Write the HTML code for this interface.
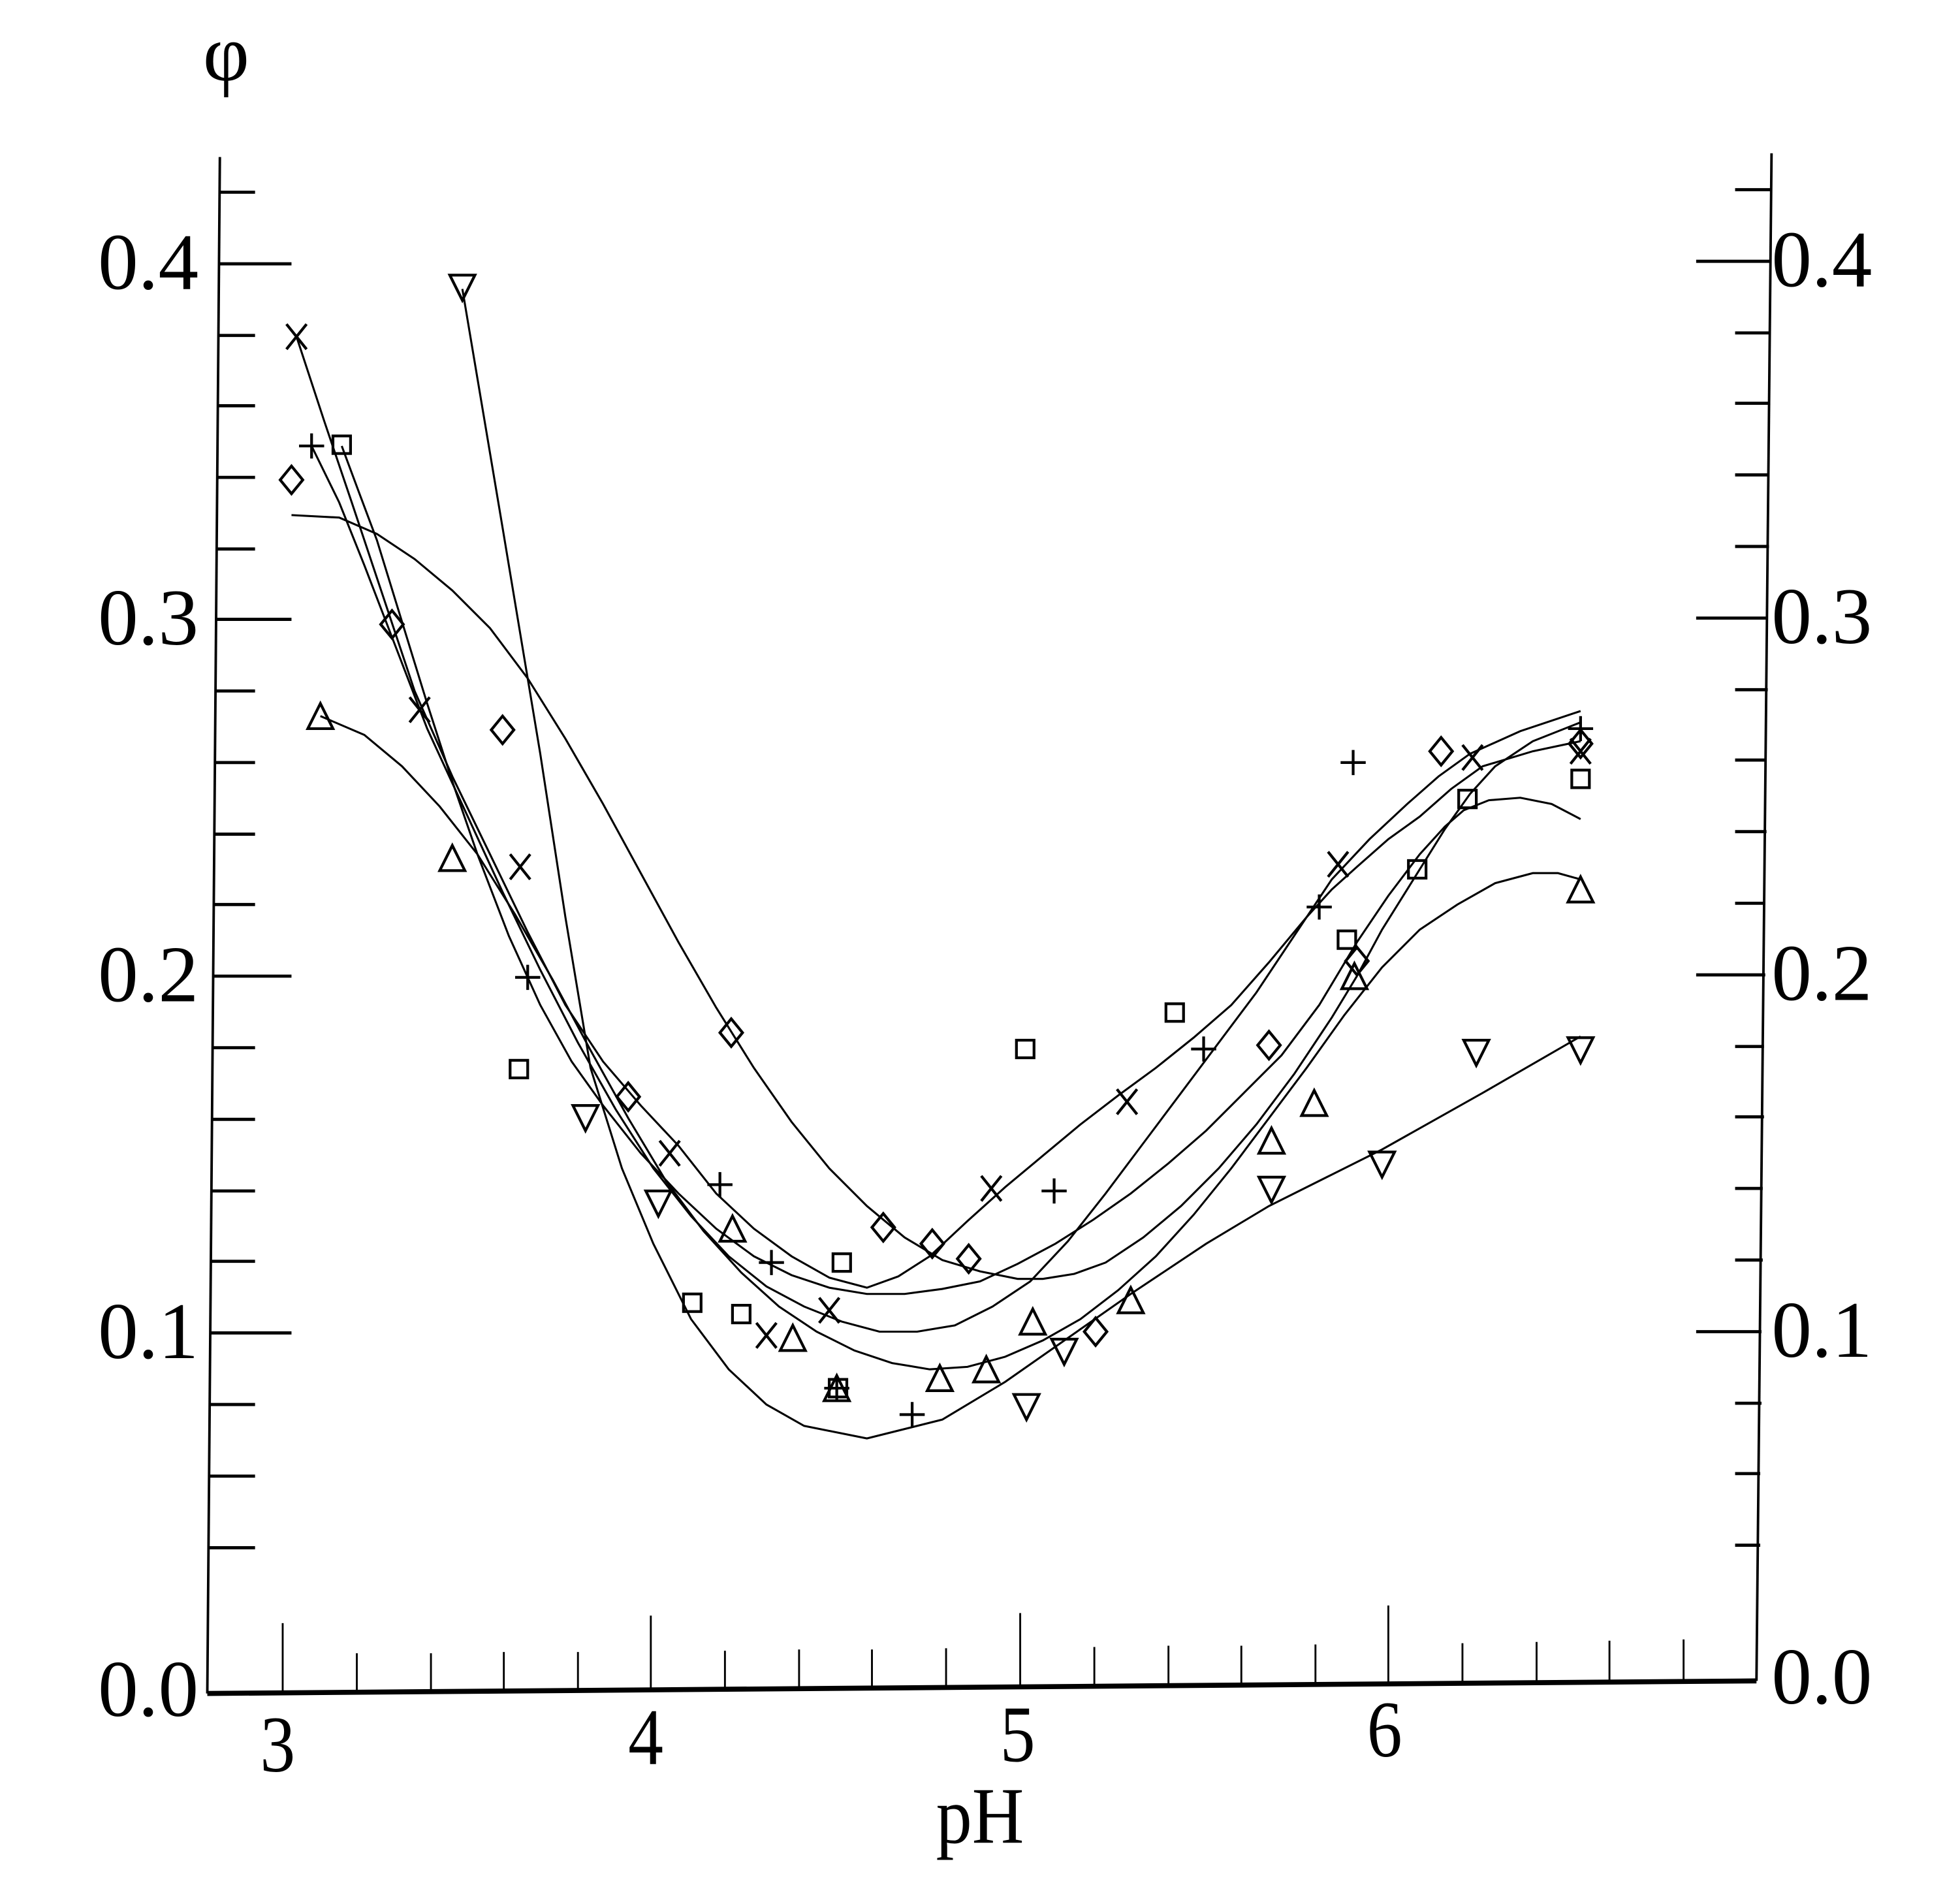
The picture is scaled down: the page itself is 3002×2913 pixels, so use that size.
<!DOCTYPE html>
<html><head><meta charset="utf-8"><style>html,body{margin:0;padding:0;background:#fff}svg{display:block}</style></head>
<body>
<svg width="3002" height="2913" viewBox="0 0 1560 1514" preserveAspectRatio="none" xmlns="http://www.w3.org/2000/svg" font-family="Liberation Serif, serif">
<rect width="1560" height="1514" fill="#fff"/>
<g stroke="#000" fill="none">
<line x1="175" y1="125" x2="165" y2="1348" stroke-width="2"/>
<line x1="1410" y1="122" x2="1398" y2="1338" stroke-width="2"/>
<line x1="165" y1="1348" x2="1398" y2="1338" stroke-width="4"/>
<g stroke-width="2.5">
<line x1="175" y1="153" x2="203" y2="153"/><line x1="175" y1="210" x2="232" y2="210"/>
<line x1="174" y1="267" x2="203" y2="267"/><line x1="174" y1="323" x2="203" y2="323"/>
<line x1="173" y1="380" x2="203" y2="380"/><line x1="173" y1="437" x2="203" y2="437"/>
<line x1="172" y1="493" x2="232" y2="493"/><line x1="172" y1="550" x2="203" y2="550"/>
<line x1="171" y1="607" x2="203" y2="607"/><line x1="171" y1="664" x2="203" y2="664"/>
<line x1="170" y1="720" x2="203" y2="720"/><line x1="170" y1="777" x2="232" y2="777"/>
<line x1="169" y1="834" x2="203" y2="834"/><line x1="169" y1="891" x2="203" y2="891"/>
<line x1="168" y1="948" x2="203" y2="948"/><line x1="168" y1="1004" x2="203" y2="1004"/>
<line x1="167" y1="1061" x2="232" y2="1061"/><line x1="167" y1="1118" x2="203" y2="1118"/>
<line x1="166" y1="1175" x2="203" y2="1175"/><line x1="166" y1="1232" x2="203" y2="1232"/>
<line x1="1381" y1="151" x2="1410" y2="151"/><line x1="1350" y1="208" x2="1410" y2="208"/>
<line x1="1381" y1="265" x2="1409" y2="265"/><line x1="1381" y1="321" x2="1409" y2="321"/>
<line x1="1381" y1="378" x2="1408" y2="378"/><line x1="1381" y1="435" x2="1408" y2="435"/>
<line x1="1350" y1="492" x2="1407" y2="492"/><line x1="1381" y1="549" x2="1407" y2="549"/>
<line x1="1381" y1="605" x2="1406" y2="605"/><line x1="1381" y1="662" x2="1406" y2="662"/>
<line x1="1381" y1="719" x2="1405" y2="719"/><line x1="1350" y1="776" x2="1405" y2="776"/>
<line x1="1381" y1="833" x2="1404" y2="833"/><line x1="1381" y1="889" x2="1404" y2="889"/>
<line x1="1381" y1="946" x2="1403" y2="946"/><line x1="1381" y1="1003" x2="1403" y2="1003"/>
<line x1="1350" y1="1060" x2="1402" y2="1060"/><line x1="1381" y1="1117" x2="1402" y2="1117"/>
<line x1="1381" y1="1173" x2="1401" y2="1173"/><line x1="1381" y1="1230" x2="1401" y2="1230"/>
</g>
<g stroke-width="1.5">
<line x1="225" y1="1348" x2="225" y2="1292"/>
<line x1="284" y1="1347" x2="284" y2="1316"/><line x1="343" y1="1347" x2="343" y2="1316"/>
<line x1="401" y1="1346" x2="401" y2="1315"/><line x1="460" y1="1346" x2="460" y2="1315"/>
<line x1="518" y1="1345" x2="518" y2="1286"/>
<line x1="577" y1="1345" x2="577" y2="1314"/><line x1="636" y1="1344" x2="636" y2="1313"/>
<line x1="694" y1="1344" x2="694" y2="1313"/><line x1="753" y1="1343" x2="753" y2="1312"/>
<line x1="812" y1="1343" x2="812" y2="1284"/>
<line x1="871" y1="1342" x2="871" y2="1311"/><line x1="930" y1="1342" x2="930" y2="1310"/>
<line x1="988" y1="1341" x2="988" y2="1310"/><line x1="1047" y1="1341" x2="1047" y2="1309"/>
<line x1="1105" y1="1340" x2="1105" y2="1278"/>
<line x1="1164" y1="1340" x2="1164" y2="1308"/><line x1="1223" y1="1339" x2="1223" y2="1307"/>
<line x1="1281" y1="1339" x2="1281" y2="1306"/><line x1="1340" y1="1338" x2="1340" y2="1305"/>
</g>
<g stroke-width="1.6">
<polyline points="368,230 400,420 430,600 450,730 470,850 495,930 520,990 550,1050 580,1090 610,1118 640,1135 690,1145 750,1130 800,1100 850,1065 900,1030 960,990 1010,960 1060,935 1100,915 1180,870 1258,825"/>
<polyline points="232,410 270,412 300,425 330,445 360,470 390,500 420,540 450,588 480,640 510,695 540,750 570,802 600,850 630,893 660,930 690,960 720,985 750,1003 780,1012 810,1018 830,1018 855,1014 880,1005 910,985 940,960 970,930 1000,895 1030,855 1060,810 1080,777 1100,740 1125,700 1150,660 1170,632 1190,610 1220,590 1258,575"/>
<polyline points="255,570 290,585 320,610 350,642 380,680 410,728 440,780 470,836 500,890 530,940 560,980 590,1013 620,1040 650,1060 680,1075 710,1085 740,1090 770,1088 800,1080 830,1067 860,1050 890,1027 920,1000 950,967 980,930 1010,890 1040,850 1070,808 1100,770 1130,740 1160,720 1190,703 1220,695 1240,695 1258,700"/>
<polyline points="272,355 285,390 300,430 320,495 340,560 360,622 380,680 405,745 430,800 455,845 480,880 510,918 540,950 570,978 600,1000 630,1015 660,1025 690,1030 720,1030 750,1026 780,1020 810,1006 840,990 870,971 900,950 930,926 960,900 990,870 1020,840 1050,800 1080,750 1105,713 1130,680 1150,658 1165,645 1185,637 1210,635 1235,640 1258,652"/>
<polyline points="248,355 270,400 290,450 315,515 340,580 370,645 400,710 430,772 460,830 490,883 520,930 550,968 580,1000 610,1024 640,1040 670,1052 700,1060 730,1060 760,1055 790,1040 820,1020 850,988 880,950 910,910 940,870 970,830 1000,790 1030,745 1060,700 1090,668 1120,640 1145,618 1170,600 1210,582 1258,566"/>
<polyline points="236,268 258,335 280,400 305,475 330,550 360,618 390,680 420,742 450,800 480,845 510,880 540,912 570,950 600,978 630,1000 660,1017 690,1025 715,1016 740,1000 770,972 800,945 830,920 860,895 890,872 920,850 950,826 980,800 1010,766 1040,730 1060,708 1080,690 1105,668 1130,650 1155,628 1180,610 1220,598 1258,590"/>
</g>
<g stroke-width="2.2">
<g>
<path d="M358,219 h20 l-10,20 z"/><path d="M456,880 h20 l-10,20 z"/><path d="M514,948 h20 l-10,20 z"/>
<path d="M807,1110 h20 l-10,20 z"/><path d="M837,1066 h20 l-10,20 z"/><path d="M1002,937 h20 l-10,20 z"/>
<path d="M1090,917 h20 l-10,20 z"/><path d="M1165,828 h20 l-10,20 z"/><path d="M1248,826 h20 l-10,20 z"/>
</g>
<g>
<path d="M245,580 h20 l-10,-20 z"/><path d="M350,693 h20 l-10,-20 z"/><path d="M573,988 h20 l-10,-20 z"/>
<path d="M621,1075 h20 l-10,-20 z"/><path d="M656,1115 h20 l-10,-20 z"/><path d="M738,1107 h20 l-10,-20 z"/>
<path d="M775,1100 h20 l-10,-20 z"/><path d="M812,1062 h20 l-10,-20 z"/><path d="M890,1045 h20 l-10,-20 z"/>
<path d="M1002,918 h20 l-10,-20 z"/><path d="M1036,888 h20 l-10,-20 z"/><path d="M1068,787 h20 l-10,-20 z"/>
<path d="M1248,718 h20 l-10,-20 z"/>
</g>
<g>
<path d="M232,371 l9,11 -9,11 -9,-11 z"/><path d="M312,486 l9,11 -9,11 -9,-11 z"/><path d="M400,570 l9,11 -9,11 -9,-11 z"/>
<path d="M500,862 l9,11 -9,11 -9,-11 z"/><path d="M582,811 l9,11 -9,11 -9,-11 z"/><path d="M703,966 l9,11 -9,11 -9,-11 z"/>
<path d="M742,979 l9,11 -9,11 -9,-11 z"/><path d="M771,991 l9,11 -9,11 -9,-11 z"/><path d="M872,1049 l9,11 -9,11 -9,-11 z"/>
<path d="M1010,821 l9,11 -9,11 -9,-11 z"/><path d="M1080,754 l9,11 -9,11 -9,-11 z"/><path d="M1147,587 l9,11 -9,11 -9,-11 z"/>
<path d="M1258,581 l9,11 -9,11 -9,-11 z"/>
</g>
<g>
<rect x="265" y="347" width="14" height="14"/><rect x="406" y="844" width="14" height="14"/><rect x="544" y="1030" width="14" height="14"/>
<rect x="583" y="1039" width="14" height="14"/><rect x="663" y="998" width="14" height="14"/><rect x="809" y="828" width="14" height="14"/>
<rect x="928" y="799" width="14" height="14"/><rect x="1121" y="685" width="14" height="14"/><rect x="1065" y="741" width="14" height="14"/>
<rect x="1161" y="629" width="14" height="14"/><rect x="1251" y="613" width="14" height="14"/><rect x="660" y="1098" width="14" height="14"/>
</g>
<g>
<path d="M238,355 h20 M248,345 v20"/><path d="M410,778 h20 M420,768 v20"/><path d="M563,943 h20 M573,933 v20"/>
<path d="M604,1005 h20 M614,995 v20"/><path d="M656,1105 h20 M666,1095 v20"/><path d="M716,1126 h20 M726,1116 v20"/>
<path d="M829,948 h20 M839,938 v20"/><path d="M948,835 h20 M958,825 v20"/><path d="M1040,722 h20 M1050,712 v20"/>
<path d="M1067,607 h20 M1077,597 v20"/><path d="M1248,580 h20 M1258,570 v20"/>
</g>
<g>
<path d="M228,258 l16,20 M244,258 l-16,20"/><path d="M326,555 l16,20 M342,555 l-16,20"/><path d="M406,680 l16,20 M422,680 l-16,20"/>
<path d="M525,908 l16,20 M541,908 l-16,20"/><path d="M602,1053 l16,20 M618,1053 l-16,20"/><path d="M652,1033 l16,20 M668,1033 l-16,20"/>
<path d="M781,936 l16,20 M797,936 l-16,20"/><path d="M889,867 l16,20 M905,867 l-16,20"/><path d="M1057,678 l16,20 M1073,678 l-16,20"/>
<path d="M1164,593 l16,20 M1180,593 l-16,20"/><path d="M1250,588 l16,20 M1266,588 l-16,20"/>
</g>
</g>
</g>
<g font-size="64" fill="#000">
<text x="78" y="230" textLength="80" lengthAdjust="spacingAndGlyphs">0.4</text>
<text x="78" y="513" textLength="80" lengthAdjust="spacingAndGlyphs">0.3</text>
<text x="78" y="797" textLength="80" lengthAdjust="spacingAndGlyphs">0.2</text>
<text x="78" y="1081" textLength="80" lengthAdjust="spacingAndGlyphs">0.1</text>
<text x="78" y="1366" textLength="80" lengthAdjust="spacingAndGlyphs">0.0</text>
<text x="1410" y="228" textLength="80" lengthAdjust="spacingAndGlyphs">0.4</text>
<text x="1410" y="512" textLength="80" lengthAdjust="spacingAndGlyphs">0.3</text>
<text x="1410" y="796" textLength="80" lengthAdjust="spacingAndGlyphs">0.2</text>
<text x="1410" y="1080" textLength="80" lengthAdjust="spacingAndGlyphs">0.1</text>
<text x="1410" y="1356" textLength="80" lengthAdjust="spacingAndGlyphs">0.0</text>
<text x="221" y="1410" text-anchor="middle" textLength="28" lengthAdjust="spacingAndGlyphs">3</text>
<text x="514" y="1404" text-anchor="middle" textLength="28" lengthAdjust="spacingAndGlyphs">4</text>
<text x="810" y="1402" text-anchor="middle" textLength="28" lengthAdjust="spacingAndGlyphs">5</text>
<text x="1102" y="1398" text-anchor="middle" textLength="28" lengthAdjust="spacingAndGlyphs">6</text>
<text x="780" y="1467" text-anchor="middle" font-size="64" textLength="70" lengthAdjust="spacingAndGlyphs">pH</text>
<text x="180" y="64" text-anchor="middle" font-size="64">φ</text>
</g>
</svg>
</body></html>
